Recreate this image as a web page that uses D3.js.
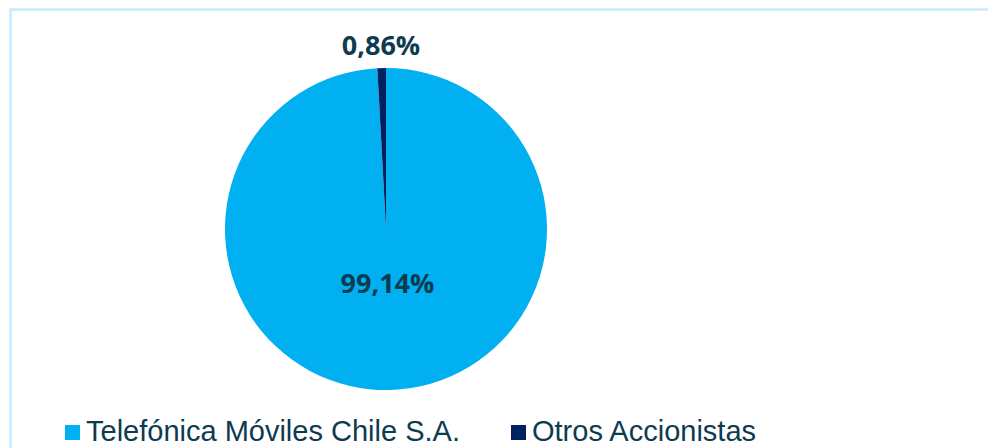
<!DOCTYPE html>
<html>
<head>
<meta charset="utf-8">
<script src="https://cdn.jsdelivr.net/npm/d3@7"></script>
<style>
  html, body { margin: 0; padding: 0; background: #ffffff; }
  svg { display: block; }
</style>
</head>
<body>
<svg id="chart" width="988" height="448"></svg>
<script>
const categories = ["Telefónica Móviles Chile S.A.", "Otros Accionistas"];
const values = [99.14, 0.86];
const valueLabels = ["99,14%", "0,86%"];
const colors = ["#00b0f0", "#002060"];

const W = 988, H = 448;
const svg = d3.select("#chart");
const textColor = "#0d3b4f";

// outer frame (extends past the right/bottom edges)
svg.append("rect")
  .attr("x", 10.5).attr("y", 9.5)
  .attr("width", 1000).attr("height", 500)
  .attr("fill", "none")
  .attr("stroke", "#c6ecfb")
  .attr("stroke-width", 2.5);

const cx = 386, cy = 229, r = 161;
const data = categories.map((c, i) => ({ cat: c, value: values[i], label: valueLabels[i], color: colors[i] }));

const pie = d3.pie().value(d => d.value).sort(null);
const arcs = pie(data);
const arc = d3.arc().innerRadius(0).outerRadius(r);

const g = svg.append("g").attr("transform", `translate(${cx},${cy})`);
g.selectAll("path.slice")
  .data(arcs)
  .join("path")
  .attr("class", "slice")
  .attr("d", arc)
  .attr("fill", d => d.data.color);

// labels
const innerLabelArc = d3.arc().innerRadius(r * 0.34).outerRadius(r * 0.34);
const outerLabelArc = d3.arc().innerRadius(184).outerRadius(184);
g.selectAll("text.lbl")
  .data(arcs)
  .join("text")
  .attr("class", "lbl")
  .attr("transform", (d, i) => {
    const p = (i === 0 ? innerLabelArc : outerLabelArc).centroid(d);
    return `translate(${p[0]},${p[1]})`;
  })
  .attr("text-anchor", "middle")
  .attr("dy", "0.36em")
  .attr("font-family", "'Open Sans', sans-serif")
  .attr("font-weight", "bold")
  .attr("font-size", 27)
  .attr("fill", textColor)
  .text(d => d.data.label);

// legend
const legendX = [65, 511];
const leg = svg.append("g");
const items = leg.selectAll("g.item")
  .data(data)
  .join("g")
  .attr("class", "item")
  .attr("transform", (d, i) => `translate(${legendX[i]},425)`);
items.append("rect")
  .attr("x", 0).attr("y", 0)
  .attr("width", 15).attr("height", 15)
  .attr("fill", d => d.color);
items.append("text")
  .attr("x", 21)
  .attr("y", 16)
  .attr("font-family", "'Liberation Sans', Arial, sans-serif")
  .attr("font-size", 29)
  .attr("fill", textColor)
  .text(d => d.cat);
</script>
</body>
</html>
